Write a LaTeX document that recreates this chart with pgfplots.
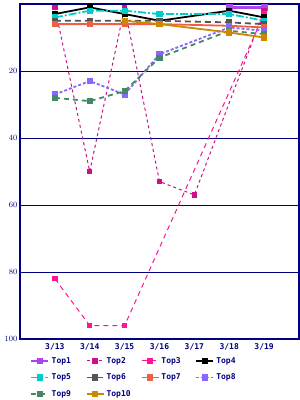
\documentclass[border=0pt]{standalone}
\usepackage{pgfplots}
\pgfplotsset{compat=1.18}
\usepackage{fontspec}
\setmainfont{DejaVu Sans Mono}
\definecolor{navy}{HTML}{000080}
\definecolor{cA}{HTML}{AA44EE}
\definecolor{cB}{HTML}{CC1188}
\definecolor{cC}{HTML}{FF1493}
\definecolor{cD}{HTML}{000000}
\definecolor{cE}{HTML}{00CCCC}
\definecolor{cF}{HTML}{555555}
\definecolor{cG}{HTML}{EE6044}
\definecolor{cH}{HTML}{8866FF}
\definecolor{cI}{HTML}{448866}
\definecolor{cJ}{HTML}{CC8800}
\begin{document}
\begin{tikzpicture}
\path[use as bounding box] (-20pt,-61pt) rectangle (280pt,339pt);
\begin{axis}[
  scale only axis, width=279pt, height=335pt,
  xmin=0, xmax=8, ymin=0, ymax=100, y dir=reverse,
  xtick={1,2,3,4,5,6,7}, xticklabels={3/13,3/14,3/15,3/16,3/17,3/18,3/19},
  ytick={20,40,60,80,100},
  ymajorgrids, major grid style={navy, line width=0.8pt},
  major tick length=0pt,
  axis line style={navy, line width=1.2pt},
  tick label style={font=\fontsize{8}{9}\selectfont\bfseries, text=navy},
  xticklabel style={yshift=-1pt},
  yticklabel style={xshift=1pt},
  legend columns=4,
  legend style={draw=none, fill=none, at={(0.025,-0.042)}, anchor=north west,
    font=\fontsize{8}{9}\selectfont\bfseries, text=navy,
    /tikz/every even column/.append style={column sep=4pt},
    row sep=5pt},
  legend cell align=left,
  every axis plot/.append style={mark=square*, mark size=2.2pt, mark options={solid}},
]
\addplot[cA, line width=2.5pt] coordinates {(6,1) (7,1)};
\addlegendentry{\makebox[28pt][l]{Top1}}
\addplot[cB, line width=1pt, dashed] coordinates {(1,1) (2,50) (3,1) (4,53) (5,57) (7,2)};
\addlegendentry{\makebox[28pt][l]{Top2}}
\addplot[cC, line width=1pt, dash pattern=on 5pt off 4pt] coordinates {(1,82) (2,96) (3,96) (7,3)};
\addlegendentry{\makebox[28pt][l]{Top3}}
\addplot[cD, line width=1.8pt] coordinates {(1,3) (2,1) (3,3) (4,5) (6,2) (7,4)};
\addlegendentry{\makebox[28pt][l]{Top4}}
\addplot[cE, line width=1.8pt, dash pattern=on 8pt off 2pt on 2pt off 2pt] coordinates {(1,4) (2,2) (3,2) (4,3) (6,3) (7,5)};
\addlegendentry{\makebox[28pt][l]{Top5}}
\addplot[cF, line width=1.8pt, dash pattern=on 6pt off 4pt] coordinates {(1,5) (2,5) (3,5) (4,5) (6,5.5) (7,6)};
\addlegendentry{\makebox[28pt][l]{Top6}}
\addplot[cG, line width=1.8pt] coordinates {(1,6) (2,6) (3,6) (4,6) (6,6.5) (7,7)};
\addlegendentry{\makebox[28pt][l]{Top7}}
\addplot[cH, line width=1.8pt, dash pattern=on 3pt off 2pt] coordinates {(1,27) (2,23) (3,27) (4,15) (6,7) (7,8)};
\addlegendentry{\makebox[28pt][l]{Top8}}
\addplot[cI, line width=1.8pt, dash pattern=on 5pt off 4pt] coordinates {(1,28) (2,29) (3,26) (4,16) (6,8) (7,9)};
\addlegendentry{\makebox[28pt][l]{Top9}}
\addplot[cJ, line width=1.8pt] coordinates {(3,5) (4,6) (6,8.5) (7,10)};
\addlegendentry{\makebox[28pt][l]{Top10}}
\end{axis}
\end{tikzpicture}
\end{document}
